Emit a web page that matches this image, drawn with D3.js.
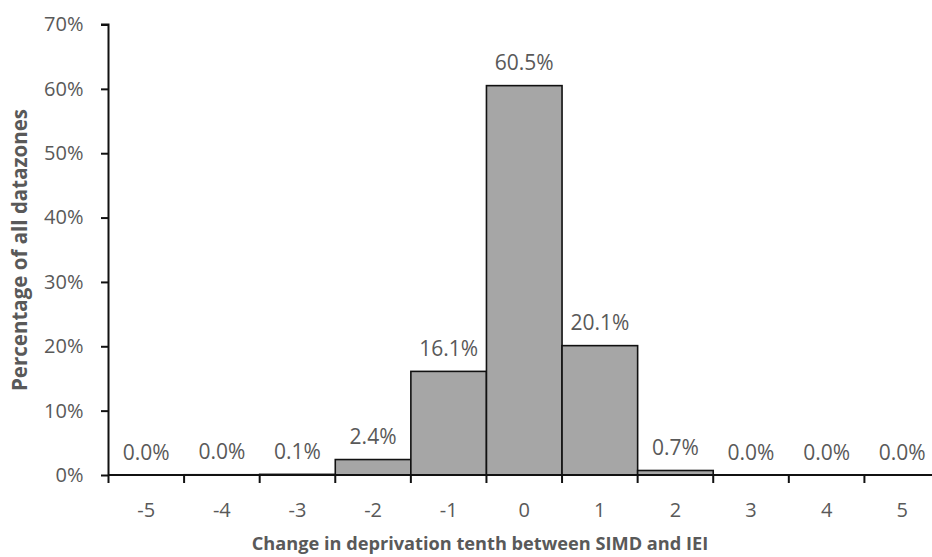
<!DOCTYPE html>
<html>
<head>
<meta charset="utf-8">
<script src="https://cdn.jsdelivr.net/npm/d3@7"></script>
<style>
  html, body { margin: 0; padding: 0; background: #fff; }
  svg { display: block; font-family: "Open Sans", "Noto Sans", sans-serif; }
</style>
</head>
<body>
<svg id="chart" width="932" height="557"></svg>
<script>
const categories = ["-5", "-4", "-3", "-2", "-1", "0", "1", "2", "3", "4", "5"];
const values = [0.0, 0.04, 0.1, 2.4, 16.1, 60.5, 20.1, 0.7, 0.0, 0.0, 0.0];
const valueLabels = ["0.0%", "0.0%", "0.1%", "2.4%", "16.1%", "60.5%", "20.1%", "0.7%", "0.0%", "0.0%", "0.0%"];
const yTicks = [0, 10, 20, 30, 40, 50, 60, 70];

const svg = d3.select("#chart");
const mLeft = 108.5, mRight = 940, mTop = 24.5, mBottom = 475;

const x = d3.scaleBand().domain(categories).range([mLeft, mRight]).padding(0);
const y = d3.scaleLinear().domain([0, 70]).range([mBottom, mTop]);

// bars
svg.append("g").selectAll("rect").data(values).join("rect")
  .attr("x", (d, i) => x(categories[i]))
  .attr("y", d => y(d))
  .attr("width", x.bandwidth())
  .attr("height", d => mBottom - y(d))
  .attr("fill", "#a6a6a6")
  .attr("stroke", "#111")
  .attr("stroke-width", 1.6);

// value labels
svg.append("g").selectAll("text").data(values).join("text")
  .attr("x", (d, i) => x(categories[i]) + x.bandwidth() / 2)
  .attr("y", d => y(d) - 15.5)
  .attr("text-anchor", "middle")
  .attr("font-size", 21)
  .attr("fill", "#595959")
  .text((d, i) => valueLabels[i]);

// y axis
const yAxis = d3.axisLeft(y).tickValues(yTicks).tickFormat(d => d + "%").tickSize(7.5).tickPadding(17.5);
const gy = svg.append("g").attr("transform", `translate(${mLeft},0)`).call(yAxis);
gy.select(".domain").attr("stroke", "#111").attr("stroke-width", 2).attr("d", `M-7.5,${mTop}H0V${mBottom}`);
gy.selectAll(".tick line").attr("stroke", "#111").attr("stroke-width", 2);
gy.selectAll(".tick text").attr("font-size", 20).attr("fill", "#595959").attr("font-family", "Open Sans, sans-serif");

// x axis: ticks at category boundaries
const boundaries = categories.map(c => x(c));
const gx = svg.append("g").attr("transform", `translate(0,${mBottom})`);
gx.append("line").attr("x1", mLeft).attr("x2", mRight).attr("y1", 0).attr("y2", 0)
  .attr("stroke", "#111").attr("stroke-width", 2);
gx.selectAll("line.tk").data(boundaries).join("line").attr("class", "tk")
  .attr("x1", d => d).attr("x2", d => d).attr("y1", 0).attr("y2", 8)
  .attr("stroke", "#111").attr("stroke-width", 2);
gx.selectAll("text").data(categories).join("text")
  .attr("x", d => x(d) + x.bandwidth() / 2)
  .attr("y", 42)
  .attr("text-anchor", "middle")
  .attr("font-size", 20)
  .attr("fill", "#595959")
  .text(d => d);

// axis titles
svg.append("text")
  .attr("x", 480).attr("y", 550)
  .attr("text-anchor", "middle")
  .attr("font-size", 18.2).attr("font-weight", "bold")
  .attr("fill", "#595959")
  .text("Change in deprivation tenth between SIMD and IEI");

svg.append("text")
  .attr("transform", "translate(27,250) rotate(-90)")
  .attr("text-anchor", "middle")
  .attr("font-size", 20.5).attr("font-weight", "bold")
  .attr("fill", "#595959")
  .text("Percentage of all datazones");
</script>
</body>
</html>
